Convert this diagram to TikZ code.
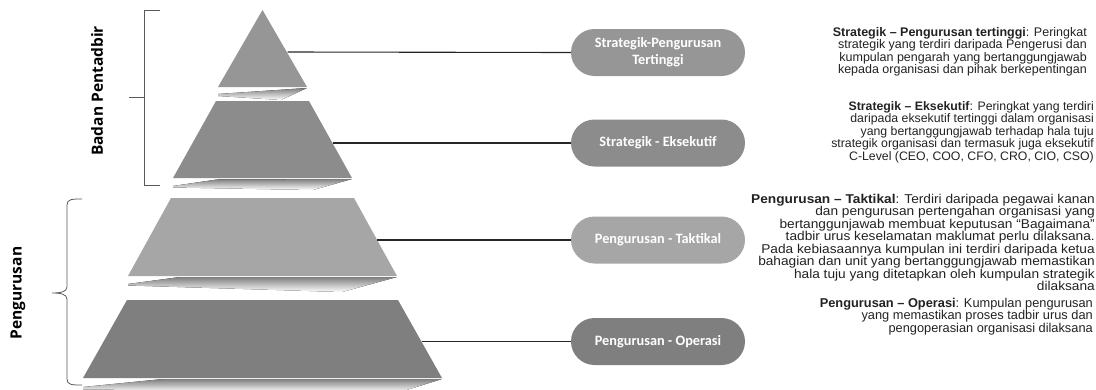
\documentclass[tikz,border=0pt]{standalone}
\usepackage{fontspec}
\setmainfont{Liberation Sans}
\newfontfamily\descnarrow{Liberation Sans}
\newfontfamily\descwide[FakeStretch=1.07]{Liberation Sans}
\newfontfamily\pillfont{Carlito}
\newfontfamily\sidefont{Open Sans}
\definecolor{tierone}{HTML}{969696}
\definecolor{tiertwo}{HTML}{8C8C8C}
\definecolor{tierthree}{HTML}{A6A6A6}
\definecolor{tierfour}{HTML}{7F7F7F}
\definecolor{shade}{HTML}{D0D0D0}
\definecolor{bracketgrey}{HTML}{595959}
\definecolor{bodytext}{HTML}{222222}
\tikzset{
  pill/.style={rectangle, rounded corners=23.5pt, minimum width=174pt,
    minimum height=47pt, inner sep=0pt, text=white, align=center,
    font=\pillfont\bfseries\fontsize{14.3}{17}\selectfont},
  link/.style={draw=black!85, line width=1.1pt},
  brace/.style={draw=bracketgrey, line width=0.8pt},
  sidelabel/.style={rotate=90, font=\sidefont\bfseries\fontsize{15.5}{18}\selectfont, text=black, inner sep=0pt},
  desc/.style={anchor=base east, align=right, inner sep=0pt, text=bodytext}
}
\begin{document}
\begin{tikzpicture}[x=1pt,y=-1pt]
\useasboundingbox (0,0) rectangle (1096,389);

% pyramid tiers
\fill[tierone] (262.5,10) -- (307,87) -- (218,87) -- cycle;
\fill[tiertwo] (216,101) -- (309,101) -- (352,178) -- (173,178) -- cycle;
\fill[tierthree] (171,198) -- (354,198) -- (397,276) -- (128,276) -- cycle;
\fill[tierfour] (127,300) -- (398,300) -- (442,378) -- (83,378) -- cycle;

% light undersides of the tiers
\fill[shade] (218,94) -- (307,88) -- (281,100) -- (218,96) -- cycle;
\fill[shade] (173,186) -- (217,179.5) -- (352,179) -- (313,190) -- (173,187.5) -- cycle;
\fill[shade] (128,284) -- (180,277) -- (397,277) -- (342,292) -- (128,285.5) -- cycle;
\fill[shade] (83,387) -- (163,379) -- (442,379) -- (400,392) -- (83,389.5) -- cycle;

% anchor points on the right side of each tier
\coordinate (t1) at (287.5,52);
\coordinate (t2) at (332.5,143);
\coordinate (t3) at (377,240);
\coordinate (t4) at (421.5,341.5);

% level pills
\node[pill, fill=tierone] (p1) at (658,52.5) {Strategik-Pengurusan\\Tertinggi};
\node[pill, fill=tiertwo] (p2) at (658,143) {Strategik - Eksekutif};
\node[pill, fill=tierthree] (p3) at (658,240) {Pengurusan - Taktikal};
\node[pill, fill=tierfour] (p4) at (658,341.5) {Pengurusan - Operasi};

\draw[link] (t1) -- (p1.west);
\draw[link] (t2) -- (p2.west);
\draw[link] (t3) -- (p3.west);
\draw[link] (t4) -- (p4.west);

% group brackets
\draw[brace] (160,10) -- (144,10) -- (144,185) -- (160,185);
\coordinate (bt) at (129,97);
\coordinate (bm) at (144,97);
\draw[brace] (bt) -- (bm);
\draw[brace] (82,199) .. controls (72,199) and (67,199) .. (67,205) -- (67,287)
  .. controls (67,292) and (60,293) .. (52,293)
  .. controls (60,293) and (67,294) .. (67,299) -- (67,379)
  .. controls (67,385) and (72,385) .. (82,385);

\node[sidelabel] (badan) at (97,91) {Badan Pentadbir};
\node[sidelabel] (urus) at (18,293) {Pengurusan};

% descriptions (anchored at the baseline of the last line)
\node[desc, font=\descnarrow\fontsize{12.5}{12.5}\selectfont] (d1) at (1087,73.5)
{\textbf{Strategik – Pengurusan tertinggi}: Peringkat\\
strategik yang terdiri daripada Pengerusi dan\\
kumpulan pengarah yang bertanggungjawab\\
kepada organisasi dan pihak berkepentingan};
\node[desc, font=\descnarrow\fontsize{12.3}{12.5}\selectfont] (d2) at (1094,160)
{\textbf{Strategik – Eksekutif}: Peringkat yang terdiri\\
daripada eksekutif tertinggi dalam organisasi\\
yang bertanggungjawab terhadap hala tuju\\
strategik organisasi dan termasuk juga eksekutif\\
C-Level (CEO, COO, CFO, CRO, CIO, CSO)};
\node[desc, font=\descwide\fontsize{12.8}{12.5}\selectfont] (d3) at (1095,290.5)
{\textbf{Pengurusan – Taktikal}: Terdiri daripada pegawai kanan\\
dan pengurusan pertengahan organisasi yang\\
bertanggunjawab membuat keputusan “Bagaimana”\\
tadbir urus keselamatan maklumat perlu dilaksana.\\
Pada kebiasaannya kumpulan ini terdiri daripada ketua\\
bahagian dan unit yang bertanggungjawab memastikan\\
hala tuju yang ditetapkan oleh kumpulan strategik\\
dilaksana};
\node[desc, font=\descnarrow\fontsize{12.8}{12.5}\selectfont] (d4) at (1093,332)
{\textbf{Pengurusan – Operasi}: Kumpulan pengurusan\\
yang memastikan proses tadbir urus dan\\
pengoperasian organisasi dilaksana};
\end{tikzpicture}
\end{document}
